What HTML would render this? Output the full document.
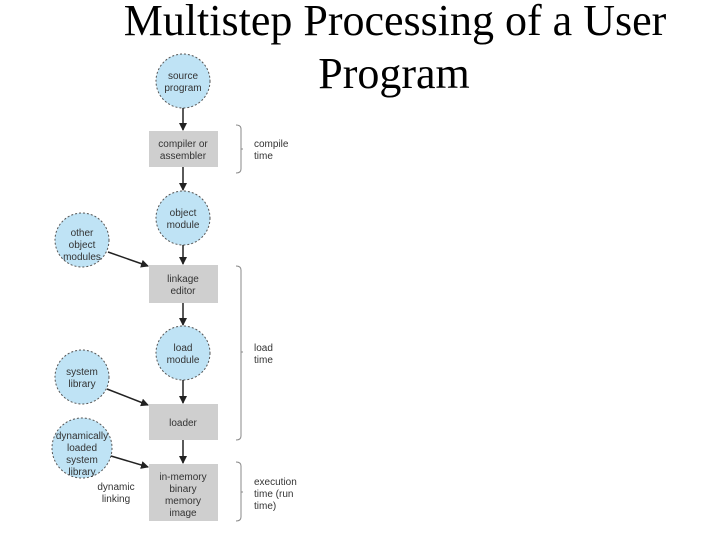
<!DOCTYPE html>
<html><head><style>
body{margin:0;width:720px;height:540px;background:#fff;overflow:hidden}
</style></head><body>
<svg width="720" height="540" xmlns="http://www.w3.org/2000/svg">
<defs><marker id="a" markerWidth="8" markerHeight="8" refX="7" refY="4" orient="auto" markerUnits="userSpaceOnUse"><path d="M0,0 L8,4 L0,8 z" fill="#222"/></marker></defs>
<text x="395" y="35" font-family="Liberation Serif" font-size="44" text-anchor="middle">Multistep Processing of a User</text>
<text x="394" y="88" font-family="Liberation Serif" font-size="44" text-anchor="middle">Program</text>
<g stroke="#555" stroke-width="1" stroke-dasharray="2,2" fill="#bfe3f5">
<circle cx="183" cy="81" r="27"/><circle cx="183" cy="218" r="27"/><circle cx="183" cy="353" r="27"/>
<circle cx="82" cy="240" r="27"/><circle cx="82" cy="377" r="27"/><circle cx="82" cy="448" r="30"/>
</g>
<g fill="#cfcfcf">
<rect x="149" y="131" width="69" height="36"/><rect x="149" y="265" width="69" height="38"/>
<rect x="149" y="404" width="69" height="36"/><rect x="149" y="464" width="69" height="57"/>
</g>
<g stroke="#222" stroke-width="1.5" marker-end="url(#a)">
<line x1="183" y1="108" x2="183" y2="130"/><line x1="183" y1="167" x2="183" y2="190"/>
<line x1="183" y1="245" x2="183" y2="264"/><line x1="183" y1="303" x2="183" y2="325"/>
<line x1="183" y1="380" x2="183" y2="403"/><line x1="183" y1="440" x2="183" y2="463"/>
<line x1="108" y1="252" x2="148" y2="266"/><line x1="107" y1="389" x2="148" y2="405"/>
<line x1="111" y1="456" x2="148" y2="467"/>
</g>
<g stroke="#888" fill="none" stroke-width="1">
<path d="M236,125 q5,0 5,4 v40 q0,4 -5,4"/><path d="M241,149 l2,0"/>
<path d="M236,266 q5,0 5,4 v166 q0,4 -5,4"/><path d="M241,352 l2,0"/>
<path d="M236,462 q5,0 5,4 v51 q0,4 -5,4"/><path d="M241,492 l2,0"/>
</g>
<g font-family="Liberation Sans" font-size="10" fill="#333" text-anchor="middle">
<text x="183" y="79">source</text><text x="183" y="91">program</text>
<text x="183" y="147">compiler or</text><text x="183" y="159">assembler</text>
<text x="183" y="216">object</text><text x="183" y="228">module</text>
<text x="183" y="282">linkage</text><text x="183" y="294">editor</text>
<text x="183" y="351">load</text><text x="183" y="363">module</text>
<text x="183" y="426">loader</text>
<text x="183" y="480">in-memory</text><text x="183" y="492">binary</text><text x="183" y="504">memory</text><text x="183" y="516">image</text>
<text x="82" y="236">other</text><text x="82" y="248">object</text><text x="82" y="260">modules</text>
<text x="82" y="375">system</text><text x="82" y="387">library</text>
<text x="82" y="439">dynamically</text><text x="82" y="451">loaded</text><text x="82" y="463">system</text><text x="82" y="475">library</text>
<text x="116" y="490">dynamic</text><text x="116" y="502">linking</text>
</g>
<g font-family="Liberation Sans" font-size="10" fill="#333">
<text x="254" y="147">compile</text><text x="254" y="159">time</text>
<text x="254" y="351">load</text><text x="254" y="363">time</text>
<text x="254" y="485">execution</text><text x="254" y="497">time (run</text><text x="254" y="509">time)</text>
</g>
</svg>
</body></html>
